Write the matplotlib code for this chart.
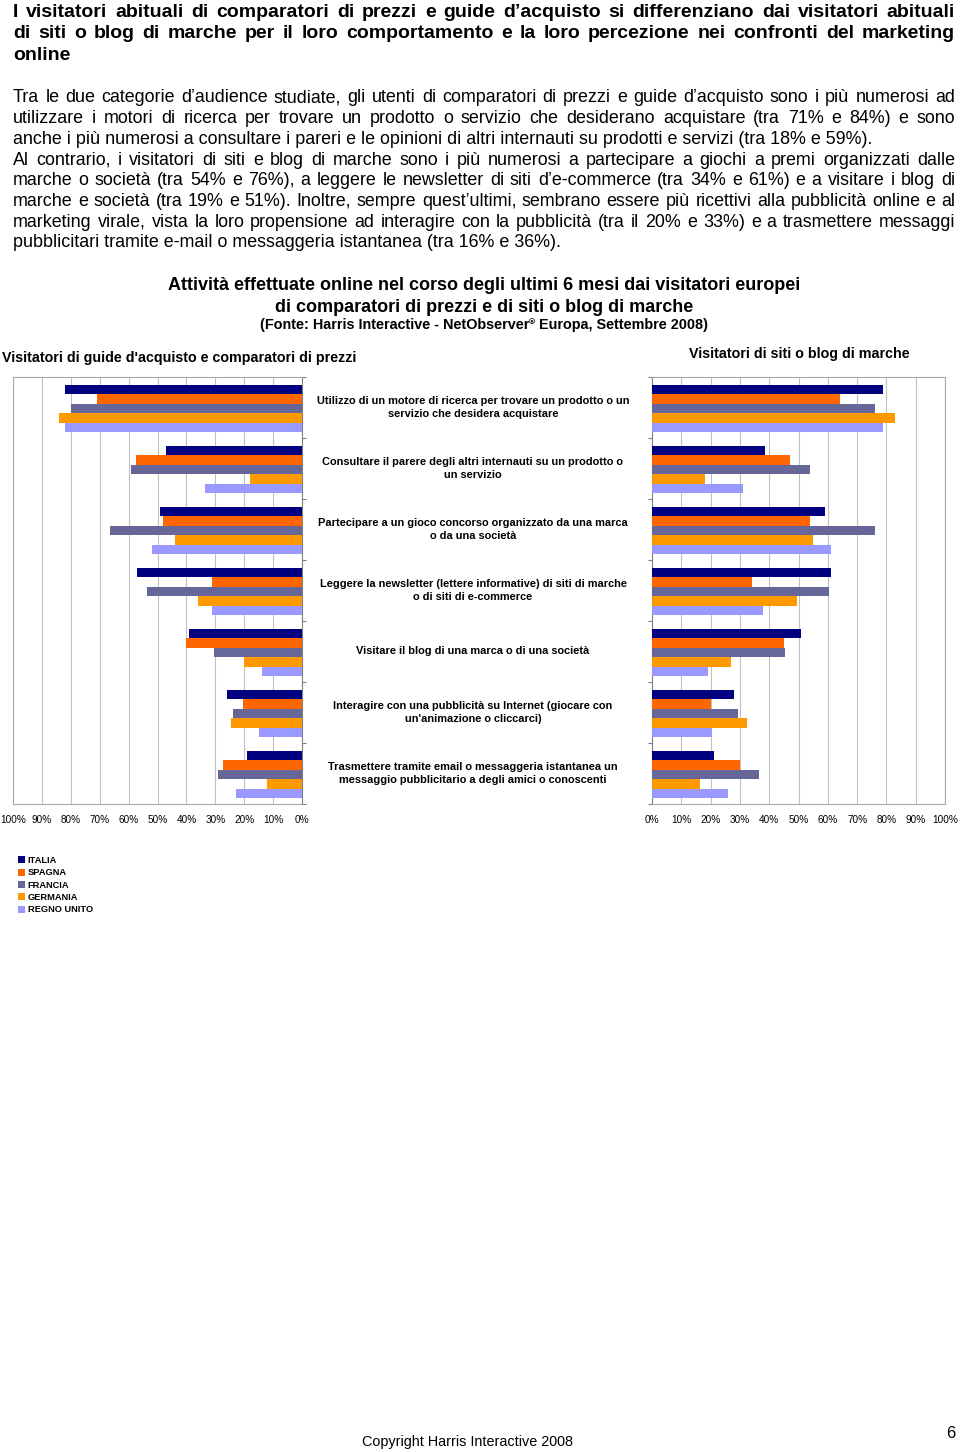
import numpy as np
import matplotlib
matplotlib.use('Agg')
import matplotlib.pyplot as plt
from matplotlib.patches import Patch

plt.rcParams['font.family'] = ['Liberation Sans', 'DejaVu Sans']
NARROW = ['Liberation Sans Narrow', 'Liberation Sans', 'DejaVu Sans']

W, H = 960, 1452

# ---- dati ----
paesi = ['ITALIA', 'SPAGNA', 'FRANCIA', 'GERMANIA', 'REGNO UNITO']
colori = ['#000080', '#FF6600', '#666699', '#FF9900', '#9999FF']

attivita = [
    "Utilizzo di un motore di ricerca per trovare un prodotto o un\nservizio che desidera acquistare",
    "Consultare il parere degli altri internauti su un prodotto o\nun servizio",
    "Partecipare a un gioco concorso organizzato da una marca\no da una società",
    "Leggere la newsletter (lettere informative) di siti di marche\no di siti di e-commerce",
    "Visitare il blog di una marca o di una società",
    "Interagire con una pubblicità su Internet (giocare con\nun'animazione o cliccarci)",
    "Trasmettere tramite email o messaggeria istantanea un\nmessaggio pubblicitario a degli amici o conoscenti",
]

# visitatori di guide d'acquisto e comparatori di prezzi (%)
comp_italia   = [82, 47, 49, 57, 39, 26, 19]
comp_spagna   = [71, 57.5, 48, 31, 40, 20.5, 27.5]
comp_francia  = [80, 59, 66.5, 53.5, 30.5, 24, 29]
comp_germania = [84, 18, 44, 36, 20, 24.5, 12]
comp_uk       = [82, 33.5, 52, 31, 14, 15, 23]

# visitatori di siti o blog di marche (%)
blog_italia   = [79, 38.5, 59, 61, 51, 28, 21]
blog_spagna   = [64, 47, 54, 34, 45, 20, 30]
blog_francia  = [76, 54, 76, 60.5, 45.5, 29.5, 36.5]
blog_germania = [83, 18, 55, 49.5, 27, 32.5, 16.5]
blog_uk       = [79, 31, 61, 38, 19, 20.5, 26]

comparatori = [comp_italia, comp_spagna, comp_francia, comp_germania, comp_uk]
blog = [blog_italia, blog_spagna, blog_francia, blog_germania, blog_uk]

titolo = [
    "I visitatori abituali di comparatori di prezzi e guide d’acquisto si differenziano dai visitatori abituali",
    "di siti o blog di marche per il loro comportamento e la loro percezione nei confronti del marketing",
    "online",
]
testo = [
    ("Tra le due categorie d’audience studiate, gli utenti di comparatori di prezzi e guide d’acquisto sono i più numerosi ad", True),
    ("utilizzare i motori di ricerca per trovare un prodotto o servizio che desiderano acquistare (tra 71% e 84%) e sono", True),
    ("anche i più numerosi a consultare i pareri e le opinioni di altri internauti su prodotti e servizi (tra 18% e 59%).", False),
    ("Al contrario, i visitatori di siti e blog di marche sono i più numerosi a partecipare a giochi a premi organizzati dalle", True),
    ("marche o società (tra 54% e 76%), a leggere le newsletter di siti d’e-commerce (tra 34% e 61%) e a visitare i blog di", True),
    ("marche e società (tra 19% e 51%). Inoltre, sempre quest’ultimi, sembrano essere più ricettivi alla pubblicità online e al", True),
    ("marketing virale, vista la loro propensione ad interagire con la pubblicità (tra il 20% e 33%) e a trasmettere messaggi", True),
    ("pubblicitari tramite e-mail o messaggeria istantanea (tra 16% e 36%).", False),
]

fig = plt.figure(figsize=(W / 100, H / 100), dpi=100)
fig.patch.set_facecolor('white')
rend = fig.canvas.get_renderer()


def fy(y):
    return 1 - y / H


def riga(s, y, size, weight='normal', giustifica=False, x0=13, x1=955):
    if not giustifica:
        fig.text(x0 / W, fy(y), s, fontsize=size, fontweight=weight, va='baseline', ha='left')
        return
    parole = s.split()
    tt = [fig.text(0, fy(y), p, fontsize=size, fontweight=weight, va='baseline', ha='left') for p in parole]
    larg = [t.get_window_extent(renderer=rend).width for t in tt]
    gap = (x1 - x0 - sum(larg)) / (len(parole) - 1)
    x = x0
    for t, w in zip(tt, larg):
        t.set_x(x / W)
        x += w + gap


# intestazione
for i, s in enumerate(titolo):
    riga(s, 17 + i * 21.5, 14, 'bold', giustifica=(i < 2))
for i, (s, j) in enumerate(testo):
    riga(s, 102.5 + i * 20.7, 12.9, giustifica=j)

# titolo del grafico
fig.text(484 / W, fy(290.5), "Attività effettuate online nel corso degli ultimi 6 mesi dai visitatori europei",
         fontsize=13, fontweight='bold', family=NARROW, ha='center', va='baseline')
fig.text(484 / W, fy(311.5), "di comparatori di prezzi e di siti o blog di marche",
         fontsize=13, fontweight='bold', family=NARROW, ha='center', va='baseline')
parti = ["(Fonte: Harris Interactive - NetObserver", "®", " Europa, Settembre 2008)"]
dims = [10.4, 6, 10.4]
tt = [fig.text(0, fy(329), p, fontsize=d, fontweight='bold', family=NARROW, ha='left', va='baseline')
      for p, d in zip(parti, dims)]
larg = [t.get_window_extent(renderer=rend).width for t in tt]
x = 484 - sum(larg) / 2
for k, (t, w) in enumerate(zip(tt, larg)):
    t.set_x(x / W)
    if k == 1:
        t.set_y(fy(324))
    x += w

fig.text(2 / W, fy(362), "Visitatori di guide d'acquisto e comparatori di prezzi",
         fontsize=10.3, fontweight='bold', family=NARROW, ha='left', va='baseline')
fig.text(689 / W, fy(358), "Visitatori di siti o blog di marche",
         fontsize=10.3, fontweight='bold', family=NARROW, ha='left', va='baseline')

# assi
top, bot = 377, 804
ax_l = fig.add_axes([13 / W, fy(bot), 289 / W, (bot - top) / H])
ax_r = fig.add_axes([652 / W, fy(bot), 293 / W, (bot - top) / H])


def grafico(ax, serie, sinistra):
    n = len(attivita)
    base = np.arange(n) + 0.515
    h = 0.154
    for j, (vals, col) in enumerate(zip(serie, colori)):
        ax.barh(base + (j - 2) * h, vals, height=h, color=col, zorder=3, linewidth=0)
    ax.set_ylim(n, 0)
    ax.set_xlim((100, 0) if sinistra else (0, 100))
    ax.set_xticks(range(0, 101, 10))
    ax.set_xticklabels([f'{v}%' for v in range(0, 101, 10)])
    ax.xaxis.grid(True, color='#C0C0C0', lw=0.8, zorder=0)
    ax.set_axisbelow(True)
    ax.set_yticks(range(0, n + 1))
    ax.set_yticklabels([])
    if sinistra:
        ax.yaxis.tick_right()
    ax.tick_params(axis='y', length=3, color='#808080', direction='out')
    ax.tick_params(axis='x', length=0, labelsize=7.2, pad=8)
    for s in ax.spines.values():
        s.set_color('#A8A8A8')
        s.set_linewidth(0.8)
    ax.spines['right' if sinistra else 'left'].set_color('#808080')


grafico(ax_l, comparatori, True)
grafico(ax_r, blog, False)

# etichette delle attività
for i, s in enumerate(attivita):
    fig.text(473 / W, fy(top + (i + 0.5) * 61), s, fontsize=7.9, fontweight='bold',
             ha='center', va='center', multialignment='center', linespacing=1.35)

# legenda
handles = [Patch(facecolor=c, edgecolor='none') for c in colori]
fig.legend(handles, paesi, loc='upper left', bbox_to_anchor=(18 / W, fy(856)), frameon=False,
           prop=dict(size=6.7, weight='bold'), handlelength=0.75, handleheight=0.75,
           handletextpad=0.3, labelspacing=0.36, borderpad=0, borderaxespad=0)

# piè di pagina
fig.text(467 / W, fy(1446), "Copyright Harris Interactive 2008", fontsize=10.4, ha='center', va='baseline')
fig.text(955 / W, fy(1438), "6", fontsize=12, ha='right', va='baseline')

fig.savefig('out.png', dpi=100)
